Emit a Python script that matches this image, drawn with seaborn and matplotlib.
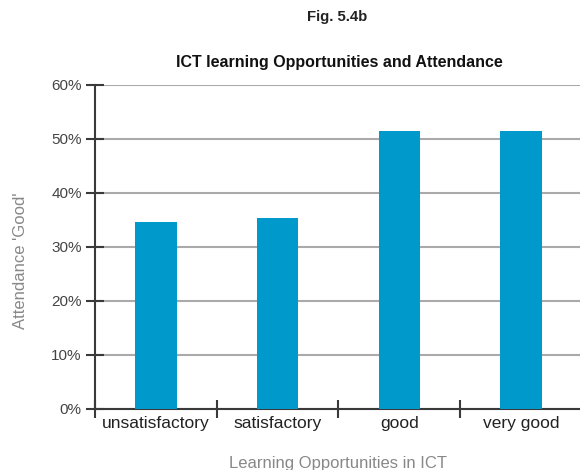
import matplotlib
matplotlib.use('Agg')
import matplotlib.pyplot as plt
import seaborn as sns
import pandas as pd
from matplotlib.ticker import PercentFormatter

# Data
categories = ['unsatisfactory', 'satisfactory', 'good', 'very good']
attendance_good = [34.6, 35.3, 51.4, 51.4]

df = pd.DataFrame({'opportunity': categories, 'attendance': attendance_good})

sns.set_style('white')
plt.rcParams['font.family'] = ['Liberation Sans', 'DejaVu Sans']

fig = plt.figure(figsize=(5.8, 4.7), dpi=100)
ax = fig.add_axes([95 / 580, 1 - 409 / 470, 487 / 580, 324 / 470])

sns.barplot(data=df, x='opportunity', y='attendance', color='#0099CC',
            saturation=1, width=0.34, linewidth=0, ax=ax, zorder=3)

ax.set_ylim(0, 60)
ax.set_xlim(-0.5, 3.5)
ax.set_yticks(range(0, 61, 10))
ax.yaxis.set_major_formatter(PercentFormatter(decimals=0))
ax.grid(axis='y', color='#aaaaaa', linewidth=1.5, zorder=0)
ax.set_axisbelow(True)

for side in ['top', 'right']:
    ax.spines[side].set_visible(False)
for side in ['left', 'bottom']:
    ax.spines[side].set_color('#3a3a3a')
    ax.spines[side].set_linewidth(1.5)

# category boundaries carry the tick marks
ax.set_xticks([-0.5, 0.5, 1.5, 2.5, 3.5], minor=True)
ax.tick_params(which='both', left=True, bottom=True)
ax.tick_params(axis='x', which='major', length=0, pad=5, labelsize=12.5,
               labelcolor='#222222')
ax.tick_params(axis='x', which='minor', direction='inout', length=13,
               width=1.5, color='#3a3a3a')
ax.tick_params(axis='y', direction='inout', length=13, width=1.5,
               color='#3a3a3a', pad=3, labelsize=11, labelcolor='#444444')

ax.set_xlabel('Learning Opportunities in ICT', fontsize=12, color='#888888')
ax.xaxis.set_label_coords(0.5, -0.167)
ax.xaxis.label.set_va('center')
ax.set_ylabel("Attendance 'Good'", fontsize=12, color='#888888')
ax.yaxis.set_label_coords(-0.154, 0.457)
ax.yaxis.label.set_va('center')

fig.text(337 / 580, 1 - 17 / 470, 'Fig. 5.4b', ha='center', va='center',
         fontsize=10.7, fontweight='bold', color='#222222')
fig.text(339 / 580, 1 - 63 / 470, 'ICT learning Opportunities and Attendance',
         ha='center', va='center', fontsize=11.5, fontweight='bold',
         color='#111111')

fig.savefig('out.png', dpi=100)
